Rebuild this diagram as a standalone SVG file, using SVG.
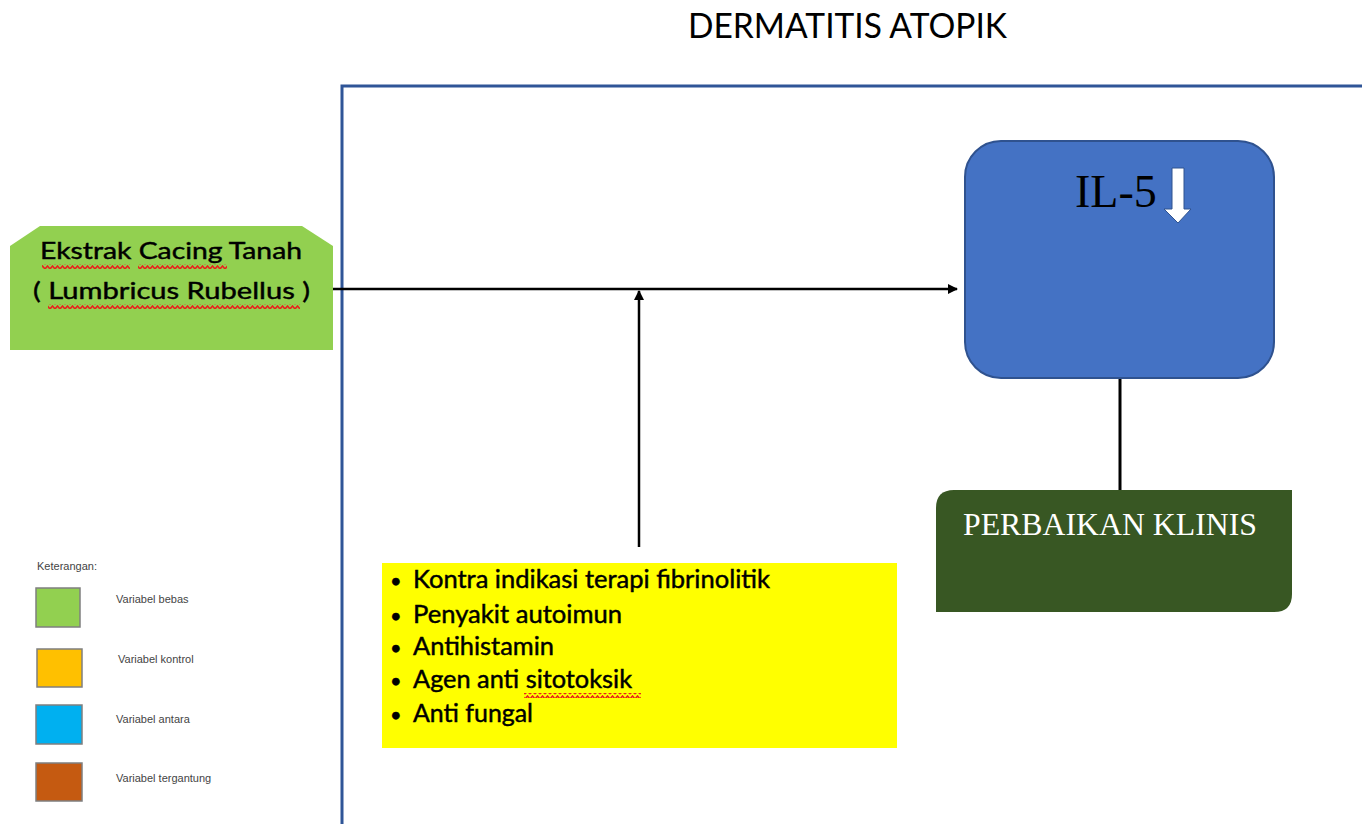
<svg xmlns="http://www.w3.org/2000/svg" width="1362" height="824" viewBox="0 0 1362 824">
<style>
.cal{font-family:Lato,"Open Sans","Liberation Sans",sans-serif;fill:#000}
.bd{stroke:#000;stroke-width:0.45}
.tim{font-family:"Liberation Serif","Times New Roman",serif}
.leg{font-family:"Liberation Sans",Arial,sans-serif;font-size:11px;fill:#444}
.conn{stroke:#000;stroke-width:2.5;fill:none}
.sw{stroke:#7f7f7f;stroke-width:1.5}
</style>
<defs>
<marker id="ah" viewBox="0 0 10 10" refX="9" refY="5" markerWidth="4" markerHeight="4" orient="auto" markerUnits="strokeWidth">
<path d="M0,0 L10,5 L0,10 z" fill="#000"/>
</marker>
<pattern id="sq" patternUnits="userSpaceOnUse" width="5" height="5">
<path d="M0,4 L2.5,1 L5,4" fill="none" stroke="#e8231b" stroke-width="1.6"/>
</pattern>
</defs>
<rect width="1362" height="824" fill="#fff"/>

<text id="title" class="cal" x="688" y="38" font-size="35" textLength="319" lengthAdjust="spacingAndGlyphs" fill="#1a1a1a">DERMATITIS ATOPIK</text>

<path id="frame" d="M342,824 L342,86 L1362,86" fill="none" stroke="#2f5597" stroke-width="3"/>

<g id="connectors">
<line class="conn" x1="333" y1="289" x2="957" y2="289" marker-end="url(#ah)"/>
<line class="conn" x1="639" y1="547" x2="639" y2="291" marker-end="url(#ah)"/>
<line x1="1120" y1="378" x2="1120" y2="491" stroke="#000" stroke-width="3"/>
</g>

<g id="node-ekstrak">
<polygon points="10,246 40,226 302,226 333,246 333,350 10,350" fill="#92d050"/>
<text class="cal bd" x="40" y="259" font-size="24" textLength="262" lengthAdjust="spacingAndGlyphs">Ekstrak Cacing Tanah</text>
<text class="cal bd" x="33" y="299" font-size="24" textLength="277" lengthAdjust="spacingAndGlyphs">( Lumbricus Rubellus )</text>
<rect x="42" y="264" width="88" height="5" fill="url(#sq)"/>
<rect x="138" y="264" width="89" height="5" fill="url(#sq)"/>
<rect x="48" y="304" width="252" height="5" fill="url(#sq)"/>
</g>

<g id="node-il5">
<rect x="965" y="141" width="309" height="237" rx="36" ry="36" fill="#4472c4" stroke="#2f528f" stroke-width="2"/>
<text class="tim" x="1075" y="207" font-size="46" fill="#000">IL-5</text>
<path d="M1172,168 L1184,168 L1184,209 L1191,209 L1178,223 L1164,209 L1172,209 Z" fill="#fff" stroke="#2f528f" stroke-width="1"/>
</g>

<g id="node-perbaikan">
<path d="M954,490 L1292,490 L1292,594 Q1292,612 1274,612 L936,612 L936,508 Q936,490 954,490 Z" fill="#385723"/>
<text class="tim" x="963" y="535" font-size="32" fill="#fff" textLength="294" lengthAdjust="spacingAndGlyphs">PERBAIKAN KLINIS</text>
</g>

<g id="node-kontrol">
<rect x="382" y="563" width="515" height="185" fill="#ffff00"/>
<g class="cal bd" font-size="24.5" lengthAdjust="spacingAndGlyphs">
<text x="390" y="588" font-size="20">•</text><text x="413" y="588" textLength="357" lengthAdjust="spacingAndGlyphs">Kontra indikasi terapi fibrinolitik</text>
<text x="390" y="623" font-size="20">•</text><text x="413" y="623" textLength="209" lengthAdjust="spacingAndGlyphs">Penyakit autoimun</text>
<text x="390" y="655" font-size="20">•</text><text x="413" y="655" textLength="141" lengthAdjust="spacingAndGlyphs">Antihistamin</text>
<text x="390" y="688" font-size="20">•</text><text x="413" y="688" textLength="219" lengthAdjust="spacingAndGlyphs">Agen anti sitotoksik</text>
<text x="390" y="722" font-size="20">•</text><text x="413" y="722" textLength="120" lengthAdjust="spacingAndGlyphs">Anti fungal</text>
</g>
<rect x="524" y="693" width="117" height="5" fill="url(#sq)"/>
</g>

<g id="legend">
<text class="leg" x="37" y="570">Keterangan:</text>
<rect class="sw" x="36" y="588" width="44" height="39" fill="#92d050"/>
<text class="leg" x="116" y="603">Variabel bebas</text>
<rect class="sw" x="37" y="649" width="45" height="38" fill="#ffc000"/>
<text class="leg" x="118" y="663">Variabel kontrol</text>
<rect class="sw" x="36" y="705" width="46" height="39" fill="#00b0f0"/>
<text class="leg" x="116" y="723">Variabel antara</text>
<rect class="sw" x="36" y="763" width="46" height="38" fill="#c55a11"/>
<text class="leg" x="116" y="782">Variabel tergantung</text>
</g>
</svg>
